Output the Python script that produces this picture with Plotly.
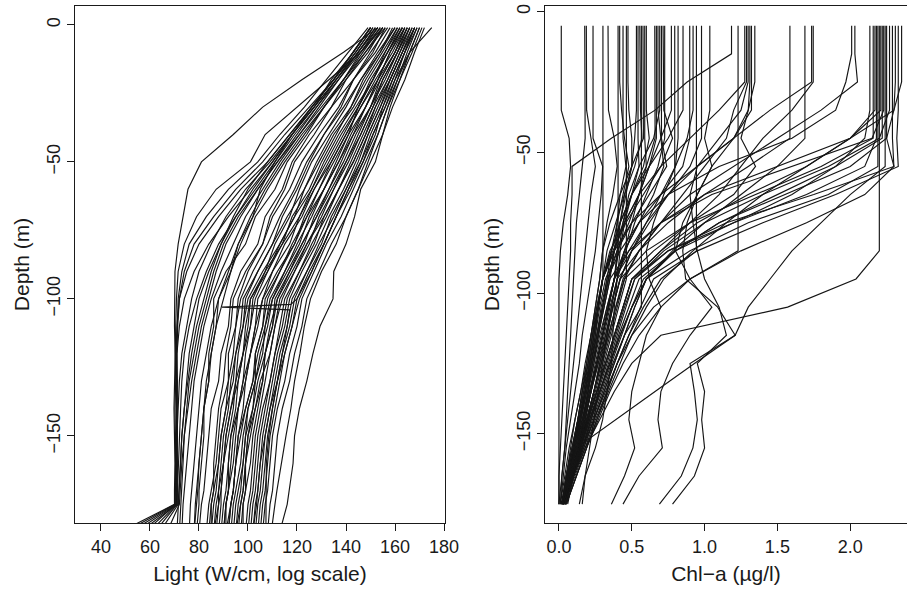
import plotly.graph_objects as go
from plotly.subplots import make_subplots

# ---- left panel: light profiles, one value per depth in light_depth ----
light_depth = [-1, -10, -20, -30, -40, -50, -60, -70, -80, -90, -100,
               -110, -120, -130, -140, -150, -160, -170, -175, -185]

# profiles that sink onto the sensor floor (~70) and fan out at the bottom
light_floor = [
    [153, 139, 122, 106, 94, 81, 75.5, 73.5, 71.5, 70.2, 70, 70, 70.3, 70, 69.8, 70, 70.2, 70, 70, 48],
    [155, 146, 133, 120, 107, 101, 87, 79, 74, 71.5, 70.8, 70.5, 70.3, 70.5, 70.2, 70.4, 70.5, 70.4, 70.2, 50],
    [150, 143, 135, 126, 117, 108, 97, 88, 80, 75, 72, 71, 70.6, 70.5, 70.7, 70.8, 70.6, 70.7, 70.5, 52],
    [153, 145, 136, 127, 118, 110, 101, 92, 84, 78, 74, 72, 71, 70.8, 71, 71.2, 71, 70.9, 70.8, 54],
    [151, 144, 135, 125, 115, 106, 95, 86, 78, 74, 72, 71.3, 71, 71.2, 71, 71.1, 71, 71, 71, 56],
    [149, 141, 132, 123, 113, 104, 92, 83, 76, 73, 71.5, 71, 70.8, 70.9, 71, 70.8, 70.9, 70.7, 70.6, 58],
    [154, 146, 137, 128, 119, 111, 103, 95, 88, 83, 79, 76, 74, 73, 72.5, 72, 71.5, 71.2, 71, 60],
    [152, 145, 136, 127, 118, 109, 99, 91, 85, 80, 77, 75, 73, 72, 71.5, 71, 71.2, 71, 71.1, 62],
    [150, 143, 135, 126, 117, 108, 100, 94, 89, 85, 82, 79, 77, 75.5, 74, 73, 72.5, 72, 71.5, 64],
    [156, 148, 139, 130, 121, 112, 104, 97, 91, 87, 84, 81, 79, 77, 75.5, 74, 73, 72.5, 72, 67],
]

# profiles between the floor group and the main bundle
light_mid = [
    [152, 145, 137, 129, 121, 113, 106, 99, 94, 89, 85, 82, 80, 78, 77, 76, 75, 74, 73.5, 73],
    [154, 147, 139, 131, 122, 114, 107, 101, 96, 92, 88, 85, 83, 81, 80, 79, 78, 77, 76.5, 76],
    [150, 143, 135, 126, 118, 110, 102, 95, 89, 84, 80, 78, 76, 75, 74, 73, 72.5, 72, 71.5, 71],
    [155, 148, 140, 131, 123, 115, 108, 102, 97, 93, 90, 87, 85, 83, 82, 81, 80, 79, 78.5, 78],
    [151, 144, 136, 128, 120, 112, 104, 96, 90, 86, 83, 80, 78, 76, 75, 74, 73.5, 73, 72.5, 72],
]

light_main = [
    [150, 143, 134, 127, 118, 111, 105, 102, 96, 93, 88, 87, 85, 84, 82, 81, 80, 79.5, 79, 78],
    [153, 146, 139, 131, 124, 116, 111, 103, 99, 91, 86, 86, 84, 84, 82, 82, 81, 80, 80, 79],
    [155, 149, 140, 134, 125, 118, 114, 107, 104, 97, 93, 92, 89, 88, 85, 84, 83, 82, 81, 80],
    [157, 150, 143, 134, 127, 119, 115, 109, 106, 100, 96, 95, 92, 92, 89, 88, 87, 85, 84, 83],
    [158, 152, 143, 137, 129, 122, 117, 110, 106, 99, 94, 93, 91, 90, 88, 87, 86, 86, 85, 85],
    [156, 151, 143, 138, 131, 125, 120, 114, 110, 104, 99, 98, 95, 94, 91, 89, 88, 87, 86, 85],
    [160, 154, 146, 140, 133, 126, 121, 117, 111, 107, 101, 99, 98, 95, 94, 92, 90, 89, 88, 86],
    [161, 155, 148, 142, 134, 128, 123, 119, 113, 108, 103, 101, 98, 96, 93, 91, 90, 89, 89, 88],
    [159, 154, 147, 142, 136, 130, 125, 118, 114, 107, 102, 101, 99, 98, 96, 95, 94, 92, 91, 90],
    [163, 157, 151, 144, 137, 131, 126, 121, 117, 110, 106, 103, 101, 98, 96, 93, 92, 91, 90, 89],
    [162, 157, 150, 145, 139, 133, 127, 122, 115, 110, 104, 103, 101, 99, 98, 96, 95, 94, 93, 92],
    [164, 158, 153, 146, 140, 134, 129, 123, 119, 113, 108, 106, 103, 102, 99, 97, 95, 94, 93, 91],
    [161, 156, 151, 145, 141, 135, 129, 124, 118, 113, 107, 106, 103, 103, 100, 99, 98, 96, 95, 94],
    [165, 160, 153, 148, 141, 136, 131, 125, 121, 115, 110, 108, 105, 103, 100, 98, 97, 95, 94, 93],
    [163, 158, 153, 148, 142, 137, 131, 126, 120, 115, 109, 107, 106, 103, 102, 100, 99, 98, 97, 96],
    [166, 161, 155, 150, 143, 138, 133, 127, 123, 117, 112, 110, 107, 106, 103, 101, 99, 98, 97, 95],
    [164, 160, 154, 150, 144, 139, 133, 128, 122, 117, 111, 110, 107, 106, 104, 102, 101, 99, 98, 97],
    [167, 162, 157, 151, 146, 140, 135, 129, 125, 119, 114, 111, 109, 105, 103, 100, 99, 99, 98, 98],
    [165, 161, 155, 151, 146, 141, 135, 130, 124, 119, 113, 111, 109, 107, 105, 103, 102, 101, 100, 99],
    [168, 163, 158, 152, 147, 142, 137, 131, 127, 121, 116, 114, 111, 109, 106, 104, 103, 102, 101, 100],
    [166, 162, 157, 152, 148, 143, 137, 132, 126, 121, 115, 113, 111, 109, 107, 105, 104, 103, 102, 101],
    [169, 164, 159, 154, 149, 144, 139, 133, 128, 122, 117, 115, 112, 110, 108, 106, 105, 104, 103, 102],
    [167, 163, 158, 154, 149, 145, 140, 134, 130, 124, 119, 117, 114, 112, 109, 107, 106, 105, 104, 103],
    [170, 166, 160, 156, 151, 146, 140, 135, 129, 124, 118, 116, 114, 112, 110, 108, 107, 106, 105, 104],
    [168, 164, 160, 155, 152, 147, 142, 136, 131, 125, 120, 118, 115, 113, 111, 109, 108, 107, 106, 105],
    [171, 167, 162, 157, 153, 148, 143, 138, 132, 127, 122, 120, 117, 115, 112, 110, 109, 108, 107, 106],
    [166, 161, 156, 150, 145, 140, 134, 128, 122, 116, 110, 107, 104, 102, 99, 96, 95, 94, 93, 92],
    [162, 156, 149, 143, 135, 129, 123, 116, 110, 104, 98, 97, 95, 93, 92, 90, 89, 88, 88, 87],
    [165, 160, 154, 148, 143, 137, 131, 124, 119, 112, 106, 104, 101, 99, 96, 94, 93, 92, 91, 90],
    [168, 163, 158, 153, 148, 143, 137, 131, 124, 118, 112, 109, 107, 104, 102, 99, 98, 97, 96, 95],
    [164, 159, 152, 146, 140, 134, 127, 121, 114, 108, 101, 100, 98, 96, 95, 93, 92, 92, 91, 91],
    [172, 168, 164, 159, 155, 150, 145, 140, 134, 129, 124, 122, 119, 117, 114, 112, 111, 110, 109, 108],
    [160, 153, 146, 139, 131, 124, 119, 113, 108, 102, 97, 95, 94, 92, 91, 89, 88, 86, 85, 84],
    [163, 157, 151, 145, 138, 132, 126, 119, 113, 106, 100, 98, 96, 95, 93, 91, 90, 88, 87, 86],
]

# the brightest profiles, right of the bundle
light_outer = [
    [175, 166, 162, 158, 155, 152, 146, 143.5, 140, 135, 134.7, 129.4, 126.5, 124, 121, 119, 118.4, 117, 116, 113],
    [169, 165, 161, 157, 153, 149, 145, 140, 136, 130, 125.5, 123, 121.2, 119, 117.5, 115.5, 113.5, 111.8, 111, 109.5],
    [170, 166, 161, 156, 151, 147, 141, 136, 131, 126, 121, 118, 115, 112, 110, 108.5, 107.5, 107.3, 107.3, 107.3],
]

# one profile with a spurious reading near 103 m
light_glitch_depth = [-1, -10, -20, -30, -40, -50, -60, -70, -80, -90, -100, -102, -103, -104,
                      -110, -120, -130, -140, -150, -160, -170, -175, -185]
light_glitch = [168, 164, 159, 155, 150, 146, 141, 136, 131, 126, 120, 117.5, 89.4, 117,
                116, 113, 111, 109, 107, 105, 104, 103.5, 102]

# ---- right panel: chlorophyll-a, one value per depth in chl_depth ----
chl_depth = [-5, -15, -25, -35, -45, -55, -65, -75, -85, -95, -105,
             -115, -125, -135, -145, -155, -165, -175]

chl_low = [
    [0.016, 0.016, 0.016, 0.016, 0.07, 0.08, 0.06, 0.03, 0.01, 0.0, 0.0, 0.0, 0.0, 0.0, 0.0, 0.0, 0.0, 0.0],
    [0.177, 0.177, 0.177, 0.177, 0.18, 0.16, 0.14, 0.12, 0.11, 0.1, 0.09, 0.08, 0.07, 0.06, 0.05, 0.04, 0.02, 0.0],
    [0.188, 0.188, 0.188, 0.19, 0.22, 0.25, 0.22, 0.2, 0.18, 0.16, 0.14, 0.12, 0.1, 0.08, 0.06, 0.04, 0.02, 0.01],
    [0.234, 0.234, 0.234, 0.234, 0.234, 0.3, 0.29, 0.27, 0.25, 0.22, 0.19, 0.16, 0.14, 0.11, 0.08, 0.05, 0.03, 0.01],
    [0.302, 0.302, 0.302, 0.302, 0.302, 0.302, 0.302, 0.302, 0.302, 0.302, 0.27, 0.23, 0.2, 0.16, 0.13, 0.09, 0.05, 0.02],
    [0.337, 0.337, 0.337, 0.34, 0.38, 0.4, 0.37, 0.33, 0.3, 0.28, 0.25, 0.22, 0.18, 0.15, 0.11, 0.07, 0.04, 0.01],
    [0.406, 0.406, 0.406, 0.406, 0.406, 0.406, 0.406, 0.406, 0.406, 0.38, 0.34, 0.3, 0.26, 0.21, 0.16, 0.11, 0.06, 0.02],
    [0.417, 0.417, 0.417, 0.43, 0.45, 0.48, 0.44, 0.4, 0.36, 0.33, 0.3, 0.27, 0.23, 0.19, 0.15, 0.1, 0.06, 0.02],
    [0.44, 0.44, 0.44, 0.44, 0.44, 0.46, 0.42, 0.4, 0.38, 0.35, 0.31, 0.27, 0.23, 0.2, 0.16, 0.12, 0.07, 0.03],
    [0.463, 0.463, 0.463, 0.463, 0.463, 0.463, 0.463, 0.463, 0.463, 0.463, 0.41, 0.36, 0.31, 0.26, 0.2, 0.14, 0.08, 0.03],
    [0.474, 0.474, 0.474, 0.48, 0.5, 0.5, 0.46, 0.42, 0.38, 0.34, 0.3, 0.26, 0.22, 0.18, 0.14, 0.1, 0.06, 0.02],
    [0.532, 0.532, 0.532, 0.532, 0.52, 0.5, 0.45, 0.42, 0.4, 0.38, 0.33, 0.28, 0.24, 0.2, 0.16, 0.11, 0.07, 0.03],
    [0.543, 0.543, 0.543, 0.543, 0.543, 0.55, 0.5, 0.44, 0.38, 0.34, 0.3, 0.26, 0.22, 0.18, 0.14, 0.1, 0.06, 0.02],
    [0.555, 0.555, 0.555, 0.56, 0.57, 0.52, 0.45, 0.39, 0.33, 0.3, 0.27, 0.25, 0.22, 0.2, 0.17, 0.13, 0.09, 0.05],
    [0.566, 0.566, 0.566, 0.566, 0.566, 0.566, 0.566, 0.566, 0.566, 0.566, 0.566, 0.45, 0.37, 0.3, 0.23, 0.16, 0.1, 0.04],
    [0.577, 0.577, 0.577, 0.577, 0.58, 0.5, 0.42, 0.35, 0.3, 0.28, 0.25, 0.22, 0.19, 0.16, 0.13, 0.1, 0.06, 0.03],
    [0.589, 0.589, 0.589, 0.589, 0.589, 0.6, 0.55, 0.48, 0.4, 0.34, 0.3, 0.27, 0.24, 0.2, 0.17, 0.13, 0.09, 0.05],
    [0.6, 0.6, 0.6, 0.6, 0.62, 0.58, 0.5, 0.45, 0.42, 0.4, 0.38, 0.37, 0.36, 0.33, 0.3, 0.25, 0.18, 0.14],
]

chl_mid = [
    [0.658, 0.658, 0.658, 0.658, 0.66, 0.6, 0.5, 0.42, 0.36, 0.3, 0.27, 0.24, 0.21, 0.18, 0.15, 0.11, 0.07, 0.03],
    [0.669, 0.669, 0.669, 0.669, 0.669, 0.62, 0.55, 0.45, 0.35, 0.3, 0.26, 0.22, 0.19, 0.15, 0.11, 0.08, 0.05, 0.02],
    [0.68, 0.68, 0.68, 0.68, 0.7, 0.72, 0.65, 0.55, 0.45, 0.38, 0.34, 0.3, 0.26, 0.22, 0.18, 0.13, 0.08, 0.03],
    [0.692, 0.692, 0.692, 0.692, 0.65, 0.55, 0.48, 0.44, 0.41, 0.38, 0.34, 0.3, 0.26, 0.22, 0.18, 0.14, 0.1, 0.06],
    [0.704, 0.704, 0.704, 0.704, 0.704, 0.74, 0.62, 0.5, 0.4, 0.32, 0.28, 0.25, 0.21, 0.18, 0.14, 0.1, 0.06, 0.02],
    [0.715, 0.715, 0.715, 0.72, 0.78, 0.7, 0.58, 0.46, 0.37, 0.3, 0.27, 0.23, 0.2, 0.17, 0.13, 0.09, 0.05, 0.02],
    [0.726, 0.726, 0.726, 0.726, 0.726, 0.68, 0.6, 0.52, 0.46, 0.4, 0.36, 0.33, 0.3, 0.27, 0.24, 0.21, 0.18, 0.16],
    [0.772, 0.772, 0.772, 0.772, 0.7, 0.62, 0.55, 0.5, 0.45, 0.4, 0.36, 0.32, 0.28, 0.24, 0.19, 0.14, 0.09, 0.04],
    [0.795, 0.795, 0.795, 0.795, 0.795, 0.795, 0.795, 0.795, 0.795, 0.6, 0.5, 0.42, 0.35, 0.28, 0.21, 0.15, 0.09, 0.04],
    [0.818, 0.818, 0.818, 0.818, 0.818, 0.8, 0.7, 0.6, 0.5, 0.42, 0.37, 0.33, 0.28, 0.24, 0.19, 0.14, 0.09, 0.04],
    [0.852, 0.852, 0.852, 0.852, 0.75, 0.62, 0.5, 0.42, 0.36, 0.3, 0.27, 0.24, 0.21, 0.18, 0.14, 0.1, 0.06, 0.02],
    [0.898, 0.898, 0.898, 0.898, 0.898, 0.85, 0.7, 0.55, 0.45, 0.38, 0.34, 0.3, 0.26, 0.22, 0.18, 0.13, 0.08, 0.03],
    [0.921, 0.921, 0.921, 0.921, 0.88, 0.8, 0.72, 0.65, 0.6, 0.62, 0.7, 0.6, 0.55, 0.5, 0.48, 0.52, 0.45, 0.36],
    [0.944, 0.944, 0.944, 0.944, 0.944, 0.944, 0.944, 0.944, 0.944, 0.7, 0.58, 0.48, 0.4, 0.33, 0.26, 0.19, 0.12, 0.05],
    [0.979, 0.979, 0.979, 0.979, 0.979, 0.9, 0.75, 0.62, 0.5, 0.42, 0.37, 0.33, 0.29, 0.24, 0.2, 0.15, 0.1, 0.04],
    [1.036, 1.036, 1.036, 1.036, 1.0, 1.05, 0.95, 0.85, 0.8, 0.9, 1.05, 0.9, 0.78, 0.7, 0.68, 0.71, 0.55, 0.44],
    [1.185, 1.185, 0.88, 0.66, 0.36, 0.09, 0.09, 0.08, 0.08, 0.07, 0.06, 0.05, 0.04, 0.03, 0.02, 0.01, 0.0, 0.0],
    [1.23, 1.23, 1.23, 1.23, 1.23, 1.23, 1.23, 1.23, 1.23, 0.9, 0.65, 0.5, 0.4, 0.32, 0.24, 0.16, 0.09, 0.03],
    [1.276, 1.276, 1.276, 1.1, 0.9, 0.7, 0.55, 0.45, 0.38, 0.3, 0.27, 0.24, 0.21, 0.17, 0.14, 0.1, 0.06, 0.02],
    [1.288, 1.288, 1.288, 1.2, 1.15, 1.0, 0.85, 0.7, 0.55, 0.44, 0.39, 0.34, 0.29, 0.24, 0.19, 0.14, 0.09, 0.04],
    [1.299, 1.299, 1.299, 1.25, 1.1, 0.95, 0.9, 0.92, 0.95, 1.0, 1.1, 1.15, 0.95, 1.0, 0.98, 1.0, 0.93, 0.78],
    [1.311, 1.311, 1.311, 1.3, 1.25, 1.35, 1.2, 0.9, 0.65, 0.45, 0.39, 0.34, 0.29, 0.24, 0.19, 0.14, 0.08, 0.03],
    [1.322, 1.322, 1.322, 1.322, 1.2, 0.95, 0.7, 0.5, 0.38, 0.3, 0.26, 0.23, 0.2, 0.16, 0.13, 0.09, 0.05, 0.02],
    [1.345, 1.345, 1.345, 1.3, 1.2, 1.05, 0.95, 0.88, 0.85, 0.87, 1.09, 1.21, 0.9, 0.93, 0.95, 0.92, 0.84, 0.69],
]

chl_high = [
    [1.586, 1.586, 1.586, 1.586, 1.586, 1.3, 1.0, 0.75, 0.55, 0.4, 0.35, 0.31, 0.27, 0.22, 0.18, 0.13, 0.08, 0.03],
    [1.689, 1.689, 1.689, 1.689, 1.689, 1.5, 1.25, 1.0, 0.78, 0.6, 0.5, 0.42, 0.35, 0.28, 0.21, 0.15, 0.09, 0.04],
    [1.735, 1.735, 1.735, 1.45, 1.2, 0.95, 0.75, 0.6, 0.48, 0.38, 0.34, 0.3, 0.26, 0.21, 0.17, 0.12, 0.07, 0.02],
    [1.746, 1.746, 1.746, 1.6, 1.4, 1.25, 1.1, 0.9, 0.7, 0.5, 0.44, 0.38, 0.32, 0.26, 0.2, 0.14, 0.08, 0.03],
    [2.01, 2.01, 1.97, 1.9, 1.6, 1.1, 0.75, 0.55, 0.42, 0.33, 0.29, 0.26, 0.22, 0.19, 0.15, 0.11, 0.07, 0.02],
    [2.032, 2.032, 2.05, 1.8, 1.5, 1.2, 0.9, 0.7, 0.55, 0.45, 0.4, 0.35, 0.3, 0.25, 0.2, 0.14, 0.09, 0.04],
    [2.135, 2.135, 2.135, 2.135, 2.1, 1.9, 1.6, 1.2, 0.8, 0.55, 0.48, 0.41, 0.35, 0.28, 0.22, 0.16, 0.1, 0.04],
    [2.158, 2.158, 2.158, 2.158, 2.158, 1.8, 1.35, 0.9, 0.6, 0.42, 0.37, 0.32, 0.27, 0.22, 0.17, 0.12, 0.07, 0.02],
    [2.17, 2.17, 2.17, 2.17, 2.0, 1.5, 1.0, 0.7, 0.5, 0.38, 0.33, 0.29, 0.25, 0.21, 0.17, 0.12, 0.08, 0.03],
    [2.18, 2.18, 2.18, 2.18, 2.18, 2.1, 1.7, 1.2, 0.75, 0.5, 0.44, 0.38, 0.32, 0.26, 0.2, 0.14, 0.08, 0.03],
    [2.19, 2.19, 2.19, 2.19, 2.19, 2.19, 1.85, 1.3, 0.9, 0.6, 0.52, 0.45, 0.38, 0.31, 0.24, 0.17, 0.1, 0.04],
    [2.2, 2.2, 2.2, 2.2, 2.2, 2.2, 2.2, 2.2, 2.2, 2.04, 1.57, 0.7, 0.5, 0.38, 0.28, 0.18, 0.1, 0.04],
    [2.21, 2.21, 2.21, 2.21, 2.0, 1.7, 1.3, 0.95, 0.7, 0.5, 0.44, 0.38, 0.32, 0.26, 0.2, 0.14, 0.08, 0.03],
    [2.22, 2.22, 2.22, 2.22, 2.22, 1.9, 1.5, 1.1, 0.8, 0.58, 0.5, 0.43, 0.36, 0.29, 0.22, 0.16, 0.1, 0.04],
    [2.23, 2.23, 2.23, 2.23, 2.15, 1.6, 1.05, 0.7, 0.48, 0.35, 0.31, 0.27, 0.23, 0.19, 0.15, 0.11, 0.07, 0.02],
    [2.24, 2.24, 2.24, 2.24, 2.24, 2.24, 2.0, 1.8, 1.6, 1.45, 1.3, 1.21, 0.93, 0.66, 0.39, 0.12, 0.06, 0.02],
    [2.25, 2.25, 2.25, 2.25, 2.25, 2.3, 1.75, 1.15, 0.75, 0.52, 0.45, 0.39, 0.33, 0.27, 0.21, 0.15, 0.09, 0.03],
    [2.27, 2.27, 2.27, 2.27, 2.2, 1.85, 1.4, 1.0, 0.72, 0.52, 0.46, 0.4, 0.34, 0.28, 0.22, 0.16, 0.1, 0.04],
    [2.29, 2.29, 2.29, 2.29, 2.29, 2.3, 2.1, 1.7, 1.25, 0.9, 0.7, 0.55, 0.44, 0.35, 0.27, 0.19, 0.12, 0.05],
    [2.31, 2.31, 2.31, 2.3, 2.25, 2.0, 1.55, 1.1, 0.8, 0.6, 0.52, 0.45, 0.38, 0.31, 0.24, 0.17, 0.1, 0.04],
    [2.33, 2.33, 2.33, 2.33, 2.32, 2.33, 1.9, 1.4, 0.95, 0.65, 0.56, 0.48, 0.4, 0.33, 0.25, 0.18, 0.11, 0.04],
    [2.353, 2.353, 2.353, 2.3, 2.0, 1.7, 1.4, 1.15, 0.92, 0.72, 0.6, 0.5, 0.42, 0.34, 0.26, 0.19, 0.12, 0.05],
]

depth_ticks = [0, -50, -100, -150]
depth_labels = ["0", "\u221250", "\u2212100", "\u2212150"]
light_ticks = [40, 60, 80, 100, 120, 140, 160, 180]
chl_ticks = [0.0, 0.5, 1.0, 1.5, 2.0]
chl_labels = ["0.0", "0.5", "1.0", "1.5", "2.0"]

FONT = "Liberation Sans, Arial, Helvetica, sans-serif"
line = dict(color="#151515", width=1.15)

fig = make_subplots(rows=1, cols=2)

for prof in light_floor + light_mid + light_main + light_outer:
    fig.add_trace(go.Scatter(x=prof, y=light_depth, mode="lines", line=line,
                             hoverinfo="skip", showlegend=False), row=1, col=1)
fig.add_trace(go.Scatter(x=light_glitch, y=light_glitch_depth, mode="lines", line=line,
                         hoverinfo="skip", showlegend=False), row=1, col=1)

for prof in chl_low + chl_mid + chl_high:
    fig.add_trace(go.Scatter(x=prof, y=chl_depth, mode="lines", line=line,
                             hoverinfo="skip", showlegend=False), row=1, col=2)

axis = dict(showline=True, mirror=True, linecolor="#1a1a1a", linewidth=1,
            ticks="outside", ticklen=7, tickwidth=1, tickcolor="#1a1a1a",
            showgrid=False, zeroline=False, automargin=False,
            tickfont=dict(family=FONT, size=18, color="#1a1a1a"),
            title_font=dict(family=FONT, size=21, color="#1a1a1a"))

fig.update_xaxes(axis)
fig.update_yaxes(axis)

fig.update_xaxes(domain=[0, 0.4447], range=[29.4, 180.4], tickvals=light_ticks,
                 title_text="Light (W/cm, log scale)", title_standoff=10, row=1, col=1)
fig.update_xaxes(domain=[0.5649, 1], range=[-0.0958, 2.39], tickvals=chl_ticks,
                 ticktext=chl_labels, title_text="Chl\u2212a (\u00b5g/l)", title_standoff=10,
                 row=1, col=2)
fig.update_yaxes(range=[-181.8, 6.9], tickvals=depth_ticks, ticktext=depth_labels,
                 tickangle=-90, title_text="Depth (m)", title_standoff=8, row=1, col=1)
fig.update_yaxes(range=[-181.7, 2.0], tickvals=depth_ticks, ticktext=depth_labels,
                 tickangle=-90, title_text="Depth (m)", title_standoff=8, row=1, col=2)

fig.update_layout(width=907, height=594, margin=dict(l=75, r=0, t=6, b=71),
                  paper_bgcolor="white", plot_bgcolor="white",
                  font=dict(family=FONT, color="#1a1a1a"))

# the page's default body margin would push the figure 8px right and down
fig.write_html("out.html", config={"displayModeBar": False},
               post_script="document.body.style.margin = '0';")
